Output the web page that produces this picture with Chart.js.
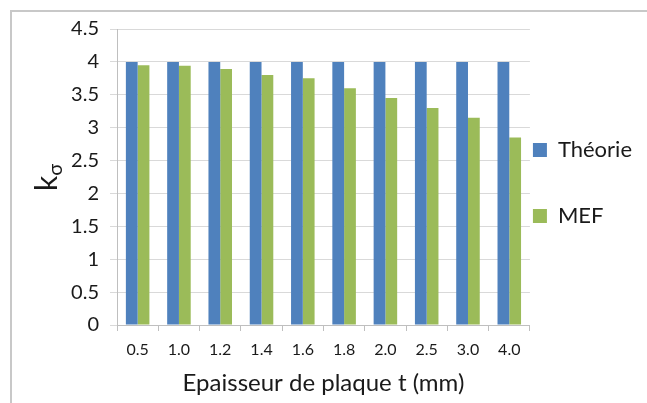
<!DOCTYPE html>
<html>
<head>
<meta charset="utf-8">
<script src="https://cdn.jsdelivr.net/npm/chart.js@4.4.1/dist/chart.umd.min.js"></script>
<style>
  html, body { margin: 0; padding: 0; background: #fff; }
  #frame {
    position: absolute; left: 10px; top: 10px; width: 636px; height: 400px;
    border-top: 2px solid #c8c8c8; border-left: 2px solid #c8c8c8;
  }
  #wrap { position: absolute; left: 0; top: 0; width: 647px; height: 403px; }
</style>
</head>
<body>
<div id="frame"></div>
<div id="wrap"><canvas id="chart" width="647" height="403"></canvas></div>
<script>
// chart data
const thicknesses = ["0.5", "1.0", "1.2", "1.4", "1.6", "1.8", "2.0", "2.5", "3.0", "4.0"];
const theorie = [4, 4, 4, 4, 4, 4, 4, 4, 4, 4];
const mef = [3.95, 3.94, 3.89, 3.8, 3.75, 3.6, 3.45, 3.3, 3.15, 2.85];

const FONT = "Lato, 'Open Sans', sans-serif";
const TEXT = "#1a1a1a";

// draws the rotated "k" with subscript sigma as the y axis title
const yTitlePlugin = {
  id: "yTitle",
  afterLayout(chart) {
    // nudge the legend up a little, it sits a bit high in the original
    if (chart.legend) {
      chart.legend.top -= 10;
      chart.legend.bottom -= 10;
    }
  },
  afterDraw(chart) {
    const ctx = chart.ctx;
    ctx.save();
    ctx.translate(57, 191);
    ctx.rotate(-Math.PI / 2);
    ctx.fillStyle = TEXT;
    ctx.textBaseline = "alphabetic";
    ctx.font = "30px " + FONT;
    ctx.fillText("k", 0, 0);
    const kw = ctx.measureText("k").width;
    ctx.font = "20px " + FONT;
    ctx.fillText("σ", kw, 5);
    ctx.restore();
  },
};

new Chart(document.getElementById("chart").getContext("2d"), {
  type: "bar",
  data: {
    labels: thicknesses,
    datasets: [
      {
        label: "Théorie",
        data: theorie,
        backgroundColor: "#4f81bd",
        barPercentage: 1,
        categoryPercentage: 0.57,
      },
      {
        label: "MEF",
        data: mef,
        backgroundColor: "#9bbb59",
        barPercentage: 1,
        categoryPercentage: 0.57,
      },
    ],
  },
  options: {
    responsive: false,
    animation: false,
    layout: {
      padding: { top: 29, right: 5, bottom: 5, left: 0 },
    },
    scales: {
      x: {
        grid: {
          display: true,
          drawOnChartArea: false,
          drawTicks: true,
          tickLength: 6,
          offset: true,
          color: "#bfbfbf",
        },
        border: { color: "#bfbfbf", width: 1 },
        ticks: {
          color: TEXT,
          font: { family: FONT, size: 16 },
          padding: 9,
          maxRotation: 0,
        },
        title: {
          display: true,
          text: "Epaisseur de plaque t (mm)",
          color: TEXT,
          font: { family: FONT, size: 24 },
          padding: { top: 1, bottom: 0 },
        },
      },
      y: {
        min: 0,
        max: 4.5,
        grid: {
          color: "#d9d9d9",
          tickLength: 7,
        },
        border: { color: "#bfbfbf", width: 1 },
        ticks: {
          stepSize: 0.5,
          color: TEXT,
          font: { family: FONT, size: 20 },
          padding: 11,
          callback: function (value) {
            return String(value); // 4 not 4.0, like the original
          },
        },
        afterFit: function (scale) {
          scale.width = 117;
        },
      },
    },
    plugins: {
      legend: {
        position: "right",
        labels: {
          boxWidth: 14,
          boxHeight: 14,
          padding: 3,
          color: TEXT,
          font: { family: FONT, size: 22, lineHeight: "63px" },
          // text as an array so the tall line height sets the spacing
          generateLabels: function (chart) {
            return chart.data.datasets.map((ds, i) => ({
              text: [ds.label],
              fillStyle: ds.backgroundColor,
              strokeStyle: ds.backgroundColor,
              lineWidth: 0,
              fontColor: TEXT,
              hidden: false,
              datasetIndex: i,
            }));
          },
        },
      },
      tooltip: { enabled: false },
    },
  },
  plugins: [yTitlePlugin],
});
</script>
</body>
</html>
